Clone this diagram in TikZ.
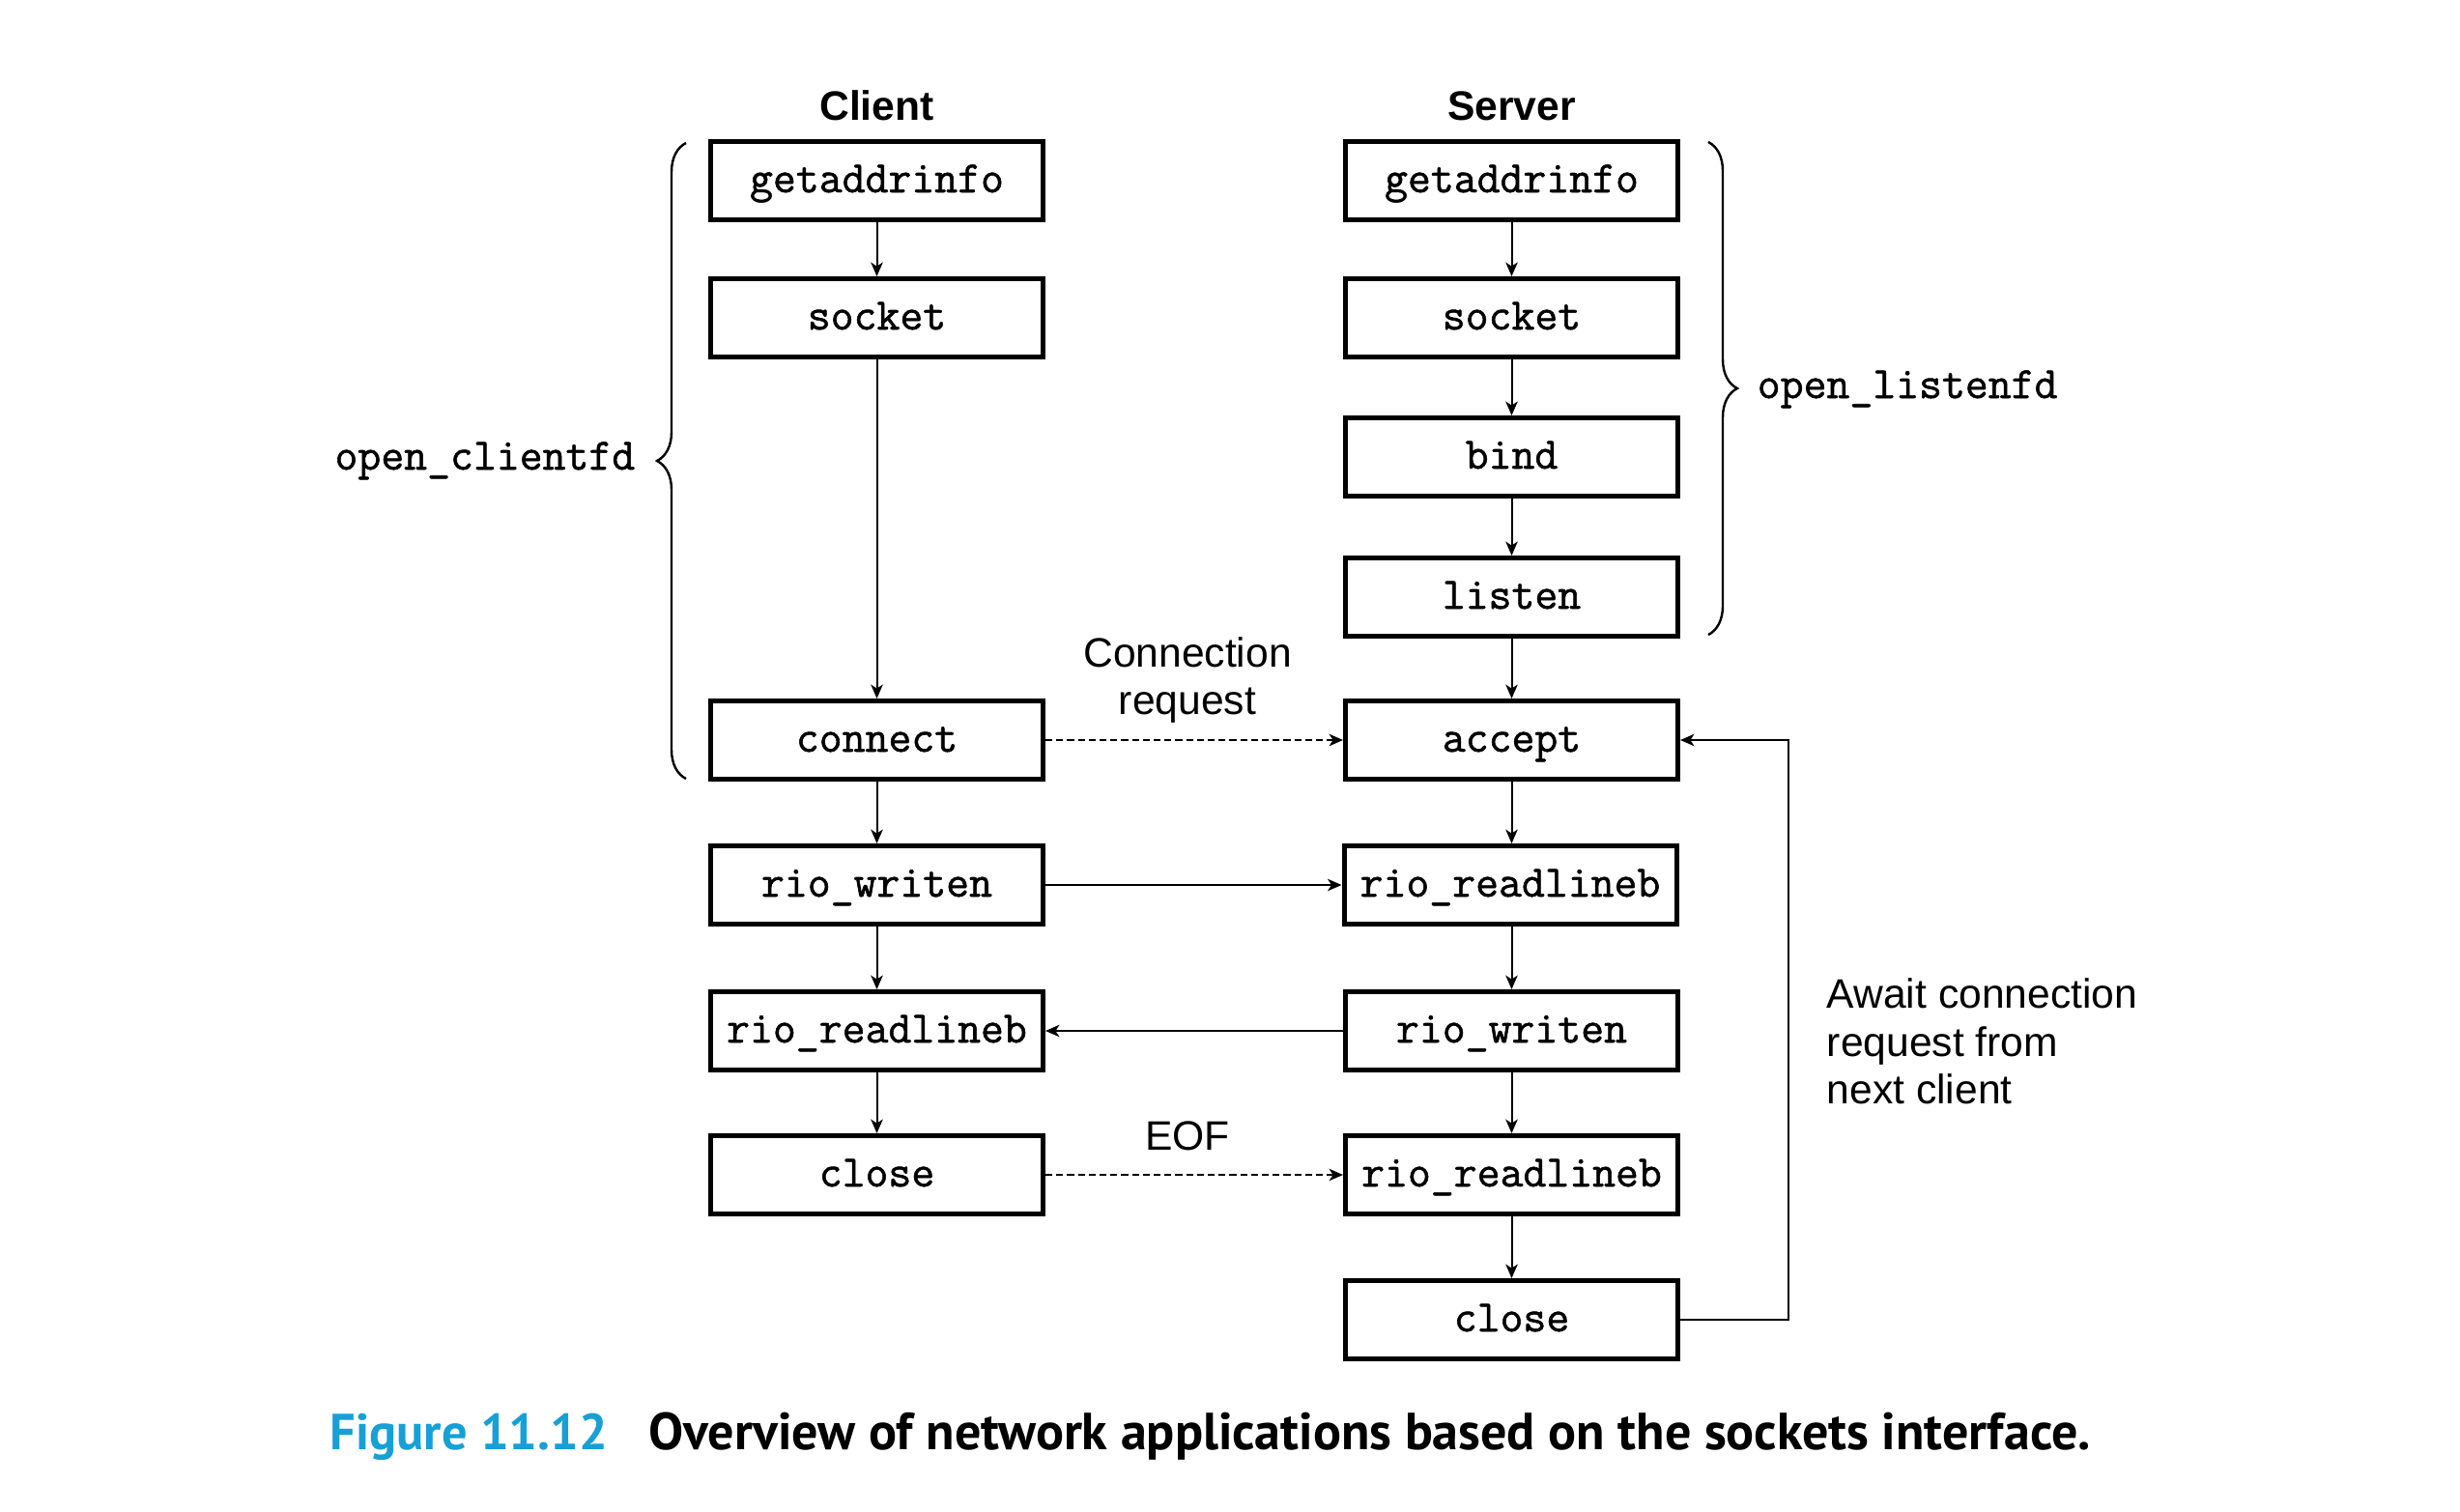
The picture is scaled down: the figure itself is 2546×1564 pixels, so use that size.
\documentclass[tikz,border=0pt]{standalone}
\usepackage{fontspec}
\usetikzlibrary{arrows.meta,decorations.pathreplacing}
\newfontfamily\monof{Latin Modern Mono}[FakeBold=1.2]
\newfontfamily\sansf{Liberation Sans}
\newfontfamily\capf{PT Sans}
\definecolor{figblue}{RGB}{22,160,214}
\tikzset{
  fbox/.style={draw, line width=1.25pt, minimum width=86pt, minimum height=20.25pt,
    inner sep=0pt, font=\monof\fontsize{11.6pt}{13pt}\selectfont, text height=7.5pt, text depth=1.5pt},
  conn/.style={line width=0.5pt, -{Stealth[length=3.6pt,width=3.1pt,inset=1pt]}},
  dconn/.style={conn, dash pattern=on 1.8pt off 1pt},
  lbl/.style={inner sep=0pt, font=\sansf\fontsize{10.65pt}{12.25pt}\selectfont},
  ttl/.style={inner sep=0pt, font=\sansf\bfseries\fontsize{10.65pt}{12.25pt}\selectfont},
  mlbl/.style={inner sep=0pt, font=\monof\fontsize{11.6pt}{13pt}\selectfont},
  brc/.style={line width=0.6pt, decorate, decoration={brace, amplitude=7.5pt}},
  capt/.style={inner sep=0pt, font=\capf\bfseries\fontsize{13.5pt}{15pt}\selectfont}
}
\begin{document}
\begin{tikzpicture}[x=0.25pt,y=-0.25pt]
\path[use as bounding box] (0,0) rectangle (2546,1564);
% titles
\node[ttl, anchor=base] (tc) at (907.5,124) {Client};
\node[ttl, anchor=base] (ts) at (1564.5,124) {Server};
% client boxes
\node[fbox] (cg) at (907.5,187) {getaddrinfo};
\node[fbox] (cs) at (907.5,329) {socket};
\node[fbox] (cc) at (907.5,766) {connect};
\node[fbox] (cw) at (907.5,916) {rio\_writen};
\node[fbox] (cr) at (907.5,1067) {rio\_readlineb};
\node[fbox] (ccl) at (907.5,1216) {close};
% server boxes
\node[fbox] (sg) at (1564.5,187) {getaddrinfo};
\node[fbox] (ss) at (1564.5,329) {socket};
\node[fbox] (sb) at (1564.5,473) {bind};
\node[fbox] (sl) at (1564.5,618) {listen};
\node[fbox] (sa) at (1564.5,766) {accept};
\node[fbox] (sr1) at (1563,916) {rio\_readlineb};
\node[fbox] (sw) at (1564.5,1067) {rio\_writen};
\node[fbox] (sr2) at (1564.5,1216) {rio\_readlineb};
\node[fbox] (scl) at (1564.5,1366) {close};
% vertical connectors
\draw[conn] (cg) -- (cs);
\draw[conn] (cs) -- (cc);
\draw[conn] (cc) -- (cw);
\draw[conn] (cw) -- (cr);
\draw[conn] (cr) -- (ccl);
\draw[conn] (sg) -- (ss);
\draw[conn] (ss) -- (sb);
\draw[conn] (sb) -- (sl);
\draw[conn] (sl) -- (sa);
\draw[conn] (sa.south) -- (sa.south |- sr1.north);
\draw[conn] (sr1.south -| sa.south) -- (sw.north);
\draw[conn] (sw) -- (sr2);
\draw[conn] (sr2) -- (scl);
% horizontal connectors
\draw[dconn] (cc) -- (sa);
\draw[conn] (cw) -- (sr1);
\draw[conn] (sw) -- (cr);
\draw[dconn] (ccl) -- (sr2);
\coordinate (loopc) at (1851,0);
\draw[line width=0.5pt, -{Stealth[length=3.6pt,width=3.1pt,inset=1pt]}]
  (scl.east) -- (loopc |- scl.east) -- (loopc |- sa.east) -- (sa.east);
% labels
\node[lbl, anchor=base] (lcr1) at (1229,690) {Connection};
\node[lbl, anchor=base] (lcr2) at (1229,739) {request};
\node[lbl, anchor=base] (leof) at (1229,1190) {EOF};
\node[lbl, anchor=base west] (law1) at (1890,1043) {Await connection};
\node[lbl, anchor=base west] (law2) at (1890,1093) {request from};
\node[lbl, anchor=base west] (law3) at (1890,1142) {next client};
% braces
\coordinate (lb1) at (710,806);
\coordinate (lb2) at (710,148);
\draw[brc] (lb1) -- (lb2);
\node[mlbl, anchor=base east] (ocl) at (658,486) {open\_clientfd};
\coordinate (rb1) at (1768,147);
\coordinate (rb2) at (1768,657);
\draw[brc] (rb1) -- (rb2);
\node[mlbl, anchor=base west] (olf) at (1818,412) {open\_listenfd};
% caption
\node[capt, anchor=base west, text=figblue, font=\capf\bfseries\fontsize{13.1pt}{15pt}\selectfont] (cap1) at (341,1500) {Figure 11.12};
\node[capt, anchor=base west] (cap2) at (671,1500) {Overview of network applications based on the sockets interface.};
\end{tikzpicture}
\end{document}
